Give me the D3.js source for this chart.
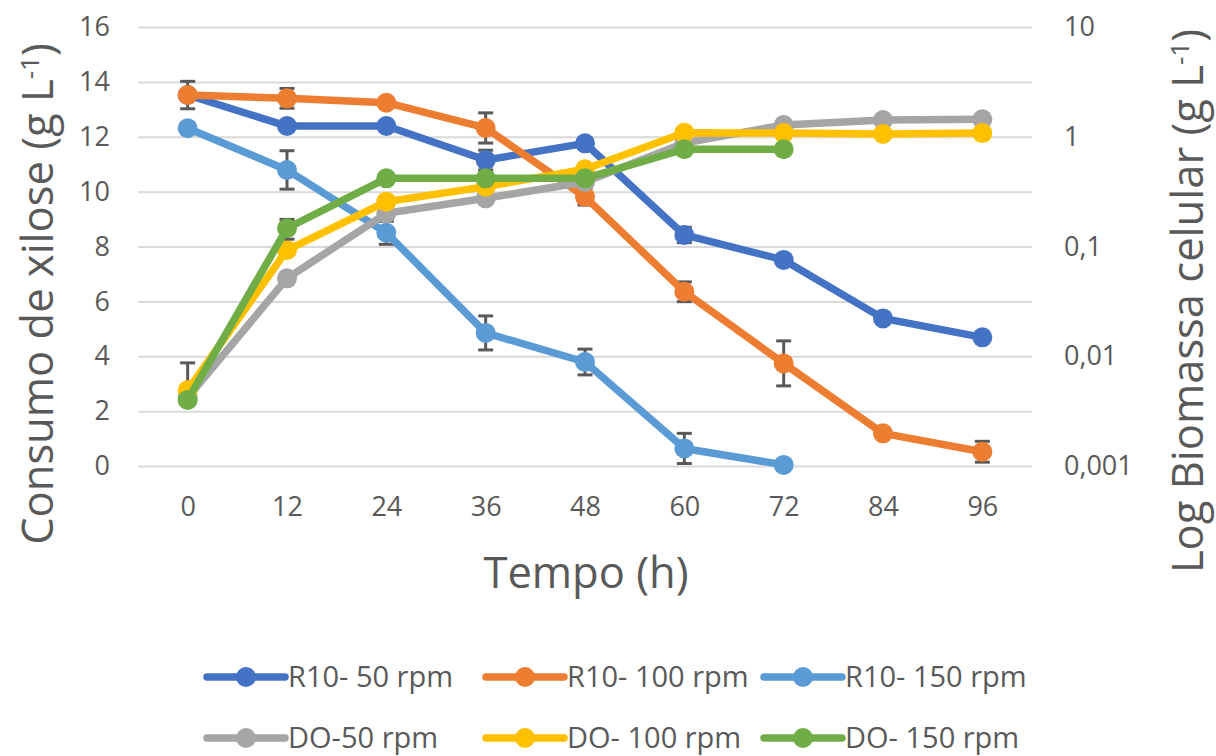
<!DOCTYPE html>
<html>
<head>
<meta charset="utf-8">
<script src="https://cdn.jsdelivr.net/npm/d3@7"></script>
<style>
  html, body { margin: 0; padding: 0; background: #ffffff; }
  svg { display: block; }
  text { font-family: "Open Sans", "Noto Sans", sans-serif; fill: #595959; }
</style>
</head>
<body>
<svg id="chart" width="1216" height="756"></svg>
<script>
// Sampling times (h)
const hours = [0, 12, 24, 36, 48, 60, 72, 84, 96];

// Xylose consumption (g/L) — left axis
const r10_50      = [13.52, 12.39, 12.39, 11.15, 11.76, 8.42, 7.51, 5.38, 4.69];
const r10_50_err  = [0.50, 0, 0, 0.36, 0, 0.28, 0, 0, 0];
const r10_100     = [13.52, 13.40, 13.24, 12.32, 9.81, 6.35, 3.74, 1.19, 0.52];
const r10_100_err = [0, 0.36, 0, 0.55, 0.30, 0.36, 0.82, 0, 0.38];
const r10_150     = [12.31, 10.79, 8.50, 4.85, 3.79, 0.64, 0.04, null, null];
const r10_150_err = [0, 0.70, 0.42, 0.62, 0.47, 0.55, 0, null, null];

// Cell biomass (g/L), log scale — right axis
const do_50       = [0.0042, 0.0513, 0.2006, 0.2748, 0.387, 0.877, 1.28, 1.42, 1.44];
const do_50_err   = [0.0045, 0, 0, 0, 0, 0, 0, 0, 0];
const do_100      = [0.0049, 0.0929, 0.256, 0.351, 0.505, 1.089, 1.08, 1.06, 1.08];
const do_100_err  = [0, 0, 0, 0, 0, 0, 0, 0, 0];
const do_150      = [0.0040, 0.1466, 0.418, 0.418, 0.418, 0.769, 0.769, null, null];
const do_150_err  = [0, 0.03, 0, 0, 0, 0, 0, null, null];

// Tick labels
const leftTicks  = [0, 2, 4, 6, 8, 10, 12, 14, 16];
const rightTicks = [0.001, 0.01, 0.1, 1, 10];

// Series names and colours
const seriesNames  = ["R10- 50 rpm", "R10- 100 rpm", "R10- 150 rpm", "DO-50 rpm", "DO- 100 rpm", "DO- 150 rpm"];
const seriesColors = ["#4472C4", "#ED7D31", "#5B9BD5", "#A5A5A5", "#FFC000", "#70AD47"];

const svg = d3.select("#chart");
const plot = { left: 138, right: 1032, top: 27, bottom: 466 };

const x = d3.scalePoint()
  .domain(hours.map(String))
  .range([plot.left, plot.right])
  .padding(0.5);

const yLeft = d3.scaleLinear().domain([0, 16]).range([plot.bottom, plot.top]);
const yRight = d3.scaleLog().domain([0.001, 10]).range([plot.bottom, plot.top]);

const ptBR = d3.formatLocale({ decimal: ",", thousands: ".", grouping: [3], currency: ["R$", ""] });
const fmtRight = ptBR.format("~g");

// Horizontal gridlines
svg.append("g")
  .attr("transform", `translate(${plot.left},0)`)
  .call(d3.axisLeft(yLeft).tickValues(leftTicks).tickSize(-(plot.right - plot.left)).tickFormat(""))
  .call(g => g.select(".domain").remove())
  .call(g => g.selectAll("line").attr("stroke", "#d9d9d9").attr("stroke-width", 2));

// Left axis labels
svg.append("g")
  .attr("transform", `translate(${plot.left - 28},0)`)
  .call(d3.axisLeft(yLeft).tickValues(leftTicks).tickSize(0).tickPadding(0))
  .call(g => g.select(".domain").remove())
  .call(g => g.selectAll("text").style("font-size", "27px").attr("fill", "#595959"));

// Right axis labels
svg.append("g")
  .attr("transform", `translate(${plot.right + 32},0)`)
  .call(d3.axisRight(yRight).tickValues(rightTicks).tickFormat(fmtRight).tickSize(0).tickPadding(0))
  .call(g => g.select(".domain").remove())
  .call(g => g.selectAll("text").style("font-size", "27px").attr("fill", "#595959"));

// Bottom axis labels
svg.append("g")
  .attr("transform", `translate(0,${plot.bottom + 31})`)
  .call(d3.axisBottom(x).tickSize(0).tickPadding(0))
  .call(g => g.select(".domain").remove())
  .call(g => g.selectAll("text").style("font-size", "27px").attr("fill", "#595959").attr("dy", "0.71em"));

// Axis titles
const titleSize = 43.5;
svg.append("text")
  .attr("transform", `translate(53,294) rotate(-90)`)
  .attr("text-anchor", "middle")
  .style("font-size", titleSize + "px")
  .call(t => {
    t.append("tspan").text("Consumo de xilose (g L");
    t.append("tspan").attr("dy", "-0.55em").style("font-size", "0.6em").text("-1");
    t.append("tspan").attr("dy", "0.33em").text(")");
  });

svg.append("text")
  .attr("transform", `translate(1203,301) rotate(-90)`)
  .attr("text-anchor", "middle")
  .style("font-size", titleSize + "px")
  .call(t => {
    t.append("tspan").text("Log Biomassa celular (g L");
    t.append("tspan").attr("dy", "-0.55em").style("font-size", "0.6em").text("-1");
    t.append("tspan").attr("dy", "0.33em").text(")");
  });

svg.append("text")
  .attr("x", 586).attr("y", 588)
  .attr("text-anchor", "middle")
  .style("font-size", titleSize + "px")
  .text("Tempo (h)");

// Series definitions
const series = [
  { name: seriesNames[0], color: seriesColors[0], values: r10_50,  err: r10_50_err,  y: yLeft },
  { name: seriesNames[1], color: seriesColors[1], values: r10_100, err: r10_100_err, y: yLeft },
  { name: seriesNames[2], color: seriesColors[2], values: r10_150, err: r10_150_err, y: yLeft },
  { name: seriesNames[3], color: seriesColors[3], values: do_50,   err: do_50_err,   y: yRight },
  { name: seriesNames[4], color: seriesColors[4], values: do_100,  err: do_100_err,  y: yRight },
  { name: seriesNames[5], color: seriesColors[5], values: do_150,  err: do_150_err,  y: yRight }
];

const capHalf = 7.5;
const lineW = 7.5;
const markerR = 10;

series.forEach(s => {
  const pts = hours.map((h, i) => ({ h, v: s.values[i], e: s.err[i] }))
    .filter(d => d.v != null);
  const g = svg.append("g");

  // error bars (on the log axis the lower bar is skipped when it would reach zero)
  pts.filter(d => d.e > 0).forEach(d => {
    const cx = x(String(d.h));
    const yTop = s.y(d.v + d.e);
    const lowVal = d.v - d.e;
    const hasLow = s.y === yLeft || lowVal > 0;
    const yBot = hasLow ? s.y(lowVal) : s.y(d.v);
    const eg = g.append("g").attr("stroke", "#595959").attr("stroke-width", 3);
    eg.append("line").attr("x1", cx).attr("x2", cx).attr("y1", yTop).attr("y2", yBot);
    eg.append("line").attr("x1", cx - capHalf).attr("x2", cx + capHalf).attr("y1", yTop).attr("y2", yTop);
    if (hasLow) eg.append("line").attr("x1", cx - capHalf).attr("x2", cx + capHalf).attr("y1", yBot).attr("y2", yBot);
  });

  const line = d3.line()
    .x(d => x(String(d.h)))
    .y(d => s.y(d.v));

  g.append("path")
    .datum(pts)
    .attr("d", line)
    .attr("fill", "none")
    .attr("stroke", s.color)
    .attr("stroke-width", lineW)
    .attr("stroke-linejoin", "round")
    .attr("stroke-linecap", "round");

  g.selectAll("circle")
    .data(pts)
    .join("circle")
    .attr("cx", d => x(String(d.h)))
    .attr("cy", d => s.y(d.v))
    .attr("r", markerR)
    .attr("fill", s.color);
});

// Legend
const legendCols = [207, 486, 764];
const legendRows = [677, 738];
series.forEach((s, i) => {
  const lx = legendCols[i % 3];
  const ly = legendRows[Math.floor(i / 3)];
  const lg = svg.append("g").attr("transform", `translate(${lx},${ly})`);
  lg.append("line")
    .attr("x1", 0).attr("x2", 78).attr("y1", 0).attr("y2", 0)
    .attr("stroke", s.color).attr("stroke-width", lineW).attr("stroke-linecap", "round");
  lg.append("circle").attr("cx", 39).attr("cy", 0).attr("r", markerR).attr("fill", s.color);
  lg.append("text")
    .attr("x", 81).attr("y", 0).attr("dy", "0.35em")
    .style("font-size", "29px")
    .text(s.name);
});
</script>
</body>
</html>
